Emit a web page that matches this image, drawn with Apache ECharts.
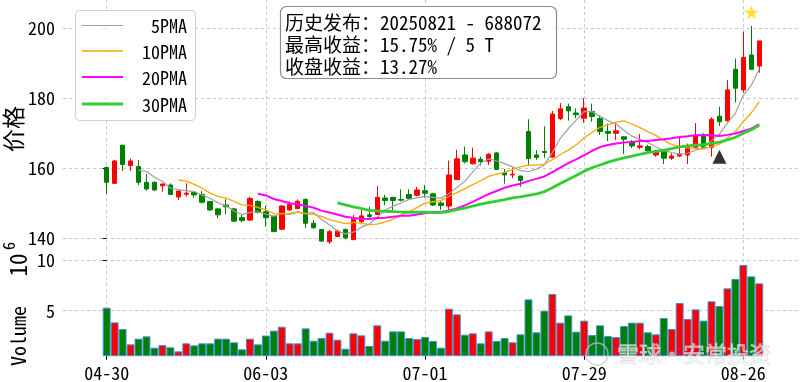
<!DOCTYPE html>
<html><head><meta charset="utf-8">
<script src="https://cdn.jsdelivr.net/npm/echarts@6/dist/echarts.min.js"></script>
<style>html,body{margin:0;padding:0;background:#fff}#c{width:800px;height:382px}</style>
</head><body><div id="c"></div>
<script>
// ---- data ----
const dates = ['04-30',
 '05-06','05-07','05-08','05-09','05-12','05-13','05-14','05-15','05-16',
 '05-19','05-20','05-21','05-22','05-23','05-26','05-27','05-28','05-29','05-30',
 '06-03','06-04','06-05','06-06','06-09','06-10','06-11','06-12','06-13',
 '06-16','06-17','06-18','06-19','06-20','06-23','06-24','06-25','06-26','06-27','06-30',
 '07-01','07-02','07-03','07-04','07-07','07-08','07-09','07-10','07-11',
 '07-14','07-15','07-16','07-17','07-18','07-21','07-22','07-23','07-24','07-25',
 '07-28','07-29','07-30','07-31','08-01','08-04','08-05','08-06','08-07','08-08',
 '08-11','08-12','08-13','08-14','08-15','08-18','08-19','08-20','08-21','08-22',
 '08-25','08-26','08-27','08-28'];
const opens = [160.2,155.7,166.6,160.8,160.5,156.0,156.0,155.0,155.2,151.8,
 152.6,153.1,152.5,150.5,148.4,149.5,148.4,145.9,145.2,150.5,
 147.6,146.2,142.6,148.1,148.5,151.1,144.3,142.5,139.0,140.5,
 142.5,139.6,144.8,146.7,146.8,151.5,151.7,151.1,152.5,152.3,
 153.6,152.7,150.1,149.2,156.8,163.8,161.3,162.6,162.0,164.4,
 158.7,158.1,157.8,170.5,163.8,164.8,163.2,174.2,177.6,175.8,
 174.3,176.2,174.2,170.5,170.0,169.0,167.6,166.0,166.2,163.8,
 164.8,162.9,163.5,163.8,166.0,169.2,166.0,174.9,173.6,188.3,
 182.4,192.4,189.2];
const closes = [156.0,162.1,161.1,162.1,156.0,154.1,153.8,155.5,152.5,153.5,
 152.9,152.4,150.3,148.1,146.7,149.0,144.9,145.1,151.4,147.4,
 145.9,141.9,149.2,149.7,150.6,144.3,143.0,139.2,141.9,142.1,
 140.1,145.4,146.4,146.2,151.7,150.8,150.8,150.9,151.4,153.8,
 152.9,149.5,149.4,158.1,162.7,161.9,162.9,161.9,164.0,159.7,
 158.1,158.3,156.5,162.8,163.1,164.5,175.5,177.0,176.4,175.3,
 177.2,174.8,170.5,170.0,170.7,168.3,166.4,166.4,165.0,164.8,
 162.9,163.5,164.1,166.2,169.2,166.0,174.0,173.3,182.4,182.9,
 191.7,188.3,196.4];
const lows = [152.6,155.5,159.2,159.2,155.2,153.6,153.5,153.3,152.4,150.9,
 151.9,151.6,150.0,147.8,145.7,146.9,144.7,144.5,144.9,147.1,
 143.3,141.9,142.4,147.8,148.4,143.0,142.8,139.0,138.4,140.3,
 139.7,139.5,144.0,145.7,146.7,149.5,148.0,150.5,151.0,152.0,
 151.5,149.2,148.1,148.1,156.7,161.4,161.1,160.8,160.9,159.5,
 155.6,157.2,154.7,160.7,162.4,163.0,163.0,173.8,173.6,174.3,
 173.0,173.3,169.5,167.8,168.1,164.1,165.8,165.4,164.7,163.3,
 161.2,162.4,163.3,161.2,165.7,165.7,163.3,172.1,173.3,178.8,
 181.6,188.1,187.3];
const highs = [160.5,162.4,166.7,162.8,162.4,158.4,156.2,155.7,155.7,153.6,
 155.7,153.5,153.5,150.6,148.7,151.2,148.7,146.7,151.9,150.9,
 149.3,146.2,149.5,150.6,151.1,151.4,145.2,142.6,142.4,142.4,
 142.8,146.7,148.6,149.0,155.0,152.4,151.7,154.0,154.0,154.7,
 155.2,153.0,150.6,162.2,165.3,166.2,165.9,163.3,164.4,164.6,
 159.8,160.2,157.8,174.0,165.2,172.0,176.4,178.6,178.5,177.1,
 180.1,178.5,175.2,172.8,172.8,169.2,168.1,169.8,166.7,165.3,
 164.8,164.3,168.9,167.1,172.9,170.0,174.6,177.6,185.2,191.4,
 199.0,200.7,196.4];
const volumes = [5.30,3.85,3.19,1.68,2.24,2.47,1.35,1.61,1.39,0.99,
 1.78,1.58,1.78,1.78,2.24,2.24,1.88,1.19,2.24,1.68,
 2.55,3.03,3.42,1.78,1.78,3.26,2.04,2.30,2.83,2.14,
 1.25,2.77,2.57,1.52,3.56,2.04,2.96,2.96,2.30,2.20,
 2.40,2.01,1.35,5.20,4.64,2.63,2.77,1.78,2.96,2.01,
 2.30,1.88,2.67,6.12,2.87,5.00,6.65,3.82,4.54,2.93,
 4.02,2.60,3.56,2.50,2.40,3.49,3.82,3.82,2.87,2.67,
 4.28,3.19,5.76,4.18,5.13,4.02,5.93,5.46,7.21,8.13,
 9.51,8.39,7.70]; // units of 10^6
const dateTickLabels = ['04-30','06-03','07-01','07-29','08-26'];
const priceTicks = [140,160,180,200];
const volumeTicks = [5,10];
const maPeriods = [5,10,20,30];
const maNames = ['5PMA','10PMA','20PMA','30PMA'];
const maColors = ['#a0a0a0','#ffa500','#ff00ff','#32cd32'];
const maWidths = [1.2,1.3,2,2.8];
const starMark = {date:'08-27', value:204.6};
const entryMark = {date:'08-21', value:163.3};
const noteLines = ['历史发布：20250821 - 688072','最高收益：15.75% / 5 T','收盘收益：13.27%'];

// ---- chart ----
const FONT = "'Noto Sans Mono CJK SC','Noto Sans CJK SC',sans-serif";
const tickIdx = dateTickLabels.map(d => dates.indexOf(d));
function movingAverage(vals, n){
  const out = [];
  for (let i = n - 1; i < vals.length; i++){
    let s = 0; for (let k = i - n + 1; k <= i; k++) s += vals[k];
    out.push([i, s / n]);
  }
  return out;
}
const up = i => closes[i] >= opens[i];
const grid = {color:'#c8c8c8', type:[3,3], width:1};
const chart = echarts.init(document.getElementById('c'), null, {renderer:'canvas'});
const xBase = {type:'value', min:-5.49, max:87.12, axisLine:{show:false}, splitLine:{show:true, lineStyle:grid}};
const series = [{
  type:'candlestick', xAxisIndex:0, yAxisIndex:0, barWidth:5,
  data: dates.map((d,i)=>[i, opens[i], closes[i], lows[i], highs[i]]),
  itemStyle:{color:'#ff0000', color0:'#008000', borderColor:'#ff0000', borderColor0:'#008000', borderWidth:1}
}];
maPeriods.forEach((p,k)=>series.push({type:'line', name:maNames[k], xAxisIndex:0, yAxisIndex:0, showSymbol:false, symbol:'none',
  data: movingAverage(closes,p), lineStyle:{color:maColors[k], width:maWidths[k]}, z:3}));
series.push({type:'scatter', xAxisIndex:0, yAxisIndex:0, z:5,
  symbol:'path://M50,0 L61,35 L98,35 L68,57 L79,91 L50,70 L21,91 L32,57 L2,35 L39,35 Z', symbolSize:[15,14],
  itemStyle:{color:'#ffd700'}, data:[[dates.indexOf(starMark.date), starMark.value]]});
series.push({type:'scatter', xAxisIndex:0, yAxisIndex:0, z:5, symbol:'triangle', symbolSize:[14,14],
  itemStyle:{color:'#000'}, data:[[dates.indexOf(entryMark.date), entryMark.value]]});
series.push({type:'bar', xAxisIndex:1, yAxisIndex:1, barWidth:7.9, clip:true,
  data: volumes.map((v,i)=>({value:[i,v], itemStyle:{color: up(i)?'#ff0000':'#008000', borderColor:'#3d8fd8', borderWidth:1}}))});

const legendRowsY = [25.5,51,77,104];
const graphics = [
  {type:'rect', z:100, shape:{x:75.5,y:10.5,width:120,height:110,r:4}, style:{fill:'rgba(255,255,255,0.9)', stroke:'#cfcfcf', lineWidth:1}}
];
maNames.forEach((n,k)=>{
  graphics.push({type:'line', z:101, shape:{x1:82,y1:legendRowsY[k],x2:123,y2:legendRowsY[k]}, style:{stroke:maColors[k], lineWidth:maWidths[k]}});
  graphics.push({type:'text', z:101, x:187, y:legendRowsY[k]+1, style:{text:n, font:'18px '+FONT, fill:'#000', align:'right', verticalAlign:'middle'}});
});
graphics.push({type:'rect', z:100, shape:{x:280.5,y:6.5,width:276,height:72,r:6}, style:{fill:'#fff', stroke:'#8c8c8c', lineWidth:1.2}});
noteLines.forEach((t,k)=>graphics.push({type:'text', z:101, x:285, y:23+k*21.7, style:{text:t, font:'19px '+FONT, fill:'#000', align:'left', verticalAlign:'middle'}}));
graphics.push({type:'text', z:50, x:13, y:129, rotation:Math.PI/2, style:{text:'价格', font:'23px '+FONT, fill:'#000', align:'center', verticalAlign:'middle'}});
graphics.push({type:'text', z:50, x:18, y:336, rotation:Math.PI/2, style:{text:'Volume', font:'20px '+FONT, fill:'#000', align:'center', verticalAlign:'middle'}});
graphics.push({type:'text', z:50, x:18, y:265, rotation:Math.PI/2, style:{text:'10', font:'23px '+FONT, fill:'#000', align:'center', verticalAlign:'middle'}});
graphics.push({type:'text', z:50, x:9, y:246, rotation:Math.PI/2, style:{text:'6', font:'16px '+FONT, fill:'#000', align:'center', verticalAlign:'middle'}});
graphics.push({type:'circle', z:60, shape:{cx:597,cy:354,r:11}, style:{fill:'none', stroke:'rgba(200,200,200,0.7)', lineWidth:1.5}});
graphics.push({type:'text', z:60, x:617, y:354, style:{text:'雪球·安常投资', font:'22px '+FONT, fill:'rgba(255,255,255,0.5)', stroke:'rgba(200,200,200,0.75)', lineWidth:0.8, align:'left', verticalAlign:'middle'}});

chart.setOption({
  animation:false, backgroundColor:'#fff',
  grid:[{left:63,right:0,top:0,height:247},{left:63,right:0,top:247,height:108.7}],
  xAxis:[
    Object.assign({gridIndex:0, axisTick:{show:false, customValues:tickIdx}, axisLabel:{show:false, customValues:tickIdx}}, xBase),
    Object.assign({gridIndex:1, axisTick:{show:true, length:4, customValues:tickIdx, lineStyle:{color:'#000'}},
      axisLabel:{customValues:tickIdx, formatter:v=>dates[Math.round(v)], margin:8, fontSize:18, fontFamily:FONT, color:'#000'}}, xBase)
  ],
  yAxis:[
    {type:'value', gridIndex:0, min:137.51, max:208.09, axisLine:{show:false},
     axisTick:{show:true, length:4, customValues:priceTicks, lineStyle:{color:'#000'}},
     axisLabel:{customValues:priceTicks, margin:8, fontSize:18, fontFamily:FONT, color:'#000'},
     splitLine:{show:true, lineStyle:grid}},
    {type:'value', gridIndex:1, min:0.56, max:11.29, axisLine:{show:false},
     axisTick:{show:true, length:4, customValues:volumeTicks, lineStyle:{color:'#000'}},
     axisLabel:{customValues:volumeTicks, margin:8, fontSize:18, fontFamily:FONT, color:'#000'},
     splitLine:{show:true, lineStyle:grid}}
  ],
  series: series,
  graphic: graphics
});
</script></body></html>
